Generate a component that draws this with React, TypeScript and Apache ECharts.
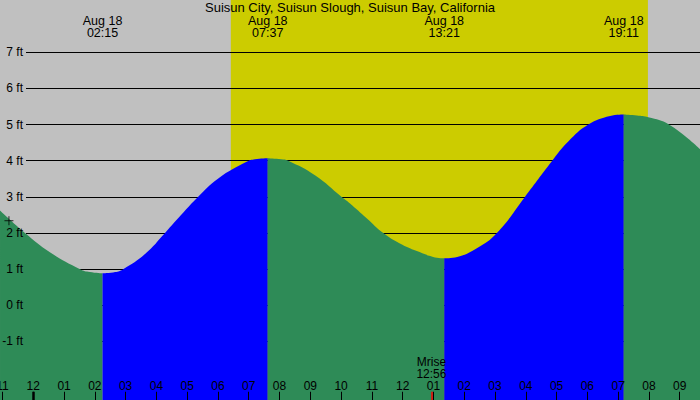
import React, { useEffect, useRef } from 'react';
import * as echarts from 'echarts';

const stationName = 'Suisun City, Suisun Slough, Suisun Bay, California';
const eventDate = 'Aug 18';
const tideEvents = ['02:15', '07:37', '13:21', '19:11'];
const sunrise = '06:25';
const sunset = '19:58';
const moonrise = '12:56';
const dayStarts = [0];

// tide curve: hours after midnight, height in feet
const tideHours = [-1.08, -0.27, 0.54, 1.52, 1.84, 2.25, 2.66, 2.92, 3.63, 4.28, 4.6, 5.35, 6.01, 6.93, 7.2, 7.617, 8.05, 8.28, 9.15, 10.02, 10.29, 10.83, 11.37, 11.91, 12.46, 12.99, 13.35, 13.77, 14.41, 15.06, 15.97, 16.84, 17.38, 18.03, 18.74, 19.183, 19.61, 19.98, 20.65, 21.66];
const tideFeet = [2.62, 2.0, 1.47, 1.0, 0.92, 0.885, 0.92, 1.0, 1.42, 2.0, 2.31, 3.0, 3.51, 3.97, 4.04, 4.07, 4.04, 4.0, 3.6, 3.0, 2.82, 2.41, 2.0, 1.71, 1.5, 1.34, 1.3, 1.34, 1.58, 2.0, 3.0, 3.98, 4.53, 5.0, 5.24, 5.28, 5.25, 5.2, 5.0, 4.32];
const nowMarker = [-0.79, 2.34];
const footLevels = [-1, 0, 1, 2, 3, 4, 5, 6, 7];

const FONT = 'Liberation Sans, Arial, sans-serif';
const X_MIN = -2;
const X_MAX = 22;
const Y_MIN = -3;
const Y_MAX = 9;

const toHours = (s: string) => {
  const [h, m] = s.split(':').map(Number);
  return h + m / 60;
};
const eventHours = tideEvents.map(toHours);

const hourLabel = (v: number) => {
  if (v <= X_MIN || v >= X_MAX) return '';
  const h = ((Math.round(v) % 12) + 12) % 12;
  return String(h === 0 ? 12 : h).padStart(2, '0');
};

const App: React.FC = () => {
  const chartRef = useRef<HTMLDivElement>(null);

  useEffect(() => {
    if (!chartRef.current) return;
    const chart = echarts.init(chartRef.current, undefined, { renderer: 'svg' });

    const points = tideHours.map((t, i) => [t, tideFeet[i]]);
    const bounds = [-Infinity, ...eventHours, Infinity];
    const segments = bounds.slice(0, -1).map((start, i) => {
      const end = bounds[i + 1];
      return points.filter(([t]) => t >= start - 0.01 && t <= end + 0.01);
    });

    // flood (rising) in blue, ebb (falling) in green
    const tideSeries = segments.map((seg) => {
      const rising = seg[seg.length - 1][1] > seg[0][1];
      return {
        type: 'line',
        xAxisIndex: 0,
        yAxisIndex: 0,
        z: 3,
        data: seg,
        smooth: 0.45,
        showSymbol: false,
        silent: true,
        lineStyle: { width: 0, opacity: 0 },
        areaStyle: { color: rising ? '#0000FF' : '#2E8B57', opacity: 1, origin: 'start' },
      };
    });

    const plainAxis = {
      axisLine: { show: false, onZero: false },
      splitLine: { show: false },
    };

    const option: any = {
      animation: false,
      backgroundColor: '#C0C0C0',
      title: {
        text: stationName,
        left: 'center',
        top: 1,
        padding: 0,
        textStyle: { fontSize: 13, fontWeight: 'normal', color: '#000', fontFamily: FONT },
      },
      grid: [
        { left: -28.3, right: -10.5, top: -20, bottom: -13.75, outerBoundsMode: 'none' },
        { left: 26, right: -10.5, top: -20, bottom: -13.75, outerBoundsMode: 'none' },
      ],
      xAxis: [
        {
          type: 'value',
          gridIndex: 0,
          min: X_MIN,
          max: X_MAX,
          interval: 1,
          position: 'bottom',
          z: 4,
          ...plainAxis,
          axisTick: { show: true, inside: true, length: 22, lineStyle: { color: '#000', width: 1 } },
          axisLabel: {
            inside: true,
            margin: 22,
            color: '#000',
            fontSize: 12,
            fontFamily: FONT,
            showMinLabel: true,
            showMaxLabel: true,
            formatter: hourLabel,
          },
        },
        {
          type: 'value',
          gridIndex: 0,
          min: X_MIN,
          max: X_MAX,
          position: 'bottom',
          z: 4,
          ...plainAxis,
          axisTick: { show: true, inside: true, length: 22, customValues: dayStarts, lineStyle: { color: '#000', width: 2.5 } },
          axisLabel: { show: false },
        },
        {
          type: 'value',
          gridIndex: 0,
          min: X_MIN,
          max: X_MAX,
          position: 'bottom',
          z: 4,
          ...plainAxis,
          axisTick: { show: true, inside: true, length: 22, customValues: [toHours(moonrise)], lineStyle: { color: '#FF0000', width: 1.5 } },
          axisLabel: {
            inside: true,
            margin: 34,
            customValues: [toHours(moonrise)],
            color: '#000',
            fontSize: 12,
            lineHeight: 12,
            fontFamily: FONT,
            formatter: () => `Mrise\n${moonrise}`,
          },
        },
        {
          type: 'value',
          gridIndex: 0,
          min: X_MIN,
          max: X_MAX,
          position: 'top',
          z: 4,
          ...plainAxis,
          axisTick: { show: false },
          axisLabel: {
            inside: true,
            margin: 34.5,
            customValues: eventHours,
            color: '#000',
            fontSize: 12.5,
            lineHeight: 12,
            fontFamily: FONT,
            formatter: (v: number) => {
              let idx = 0;
              eventHours.forEach((e, i) => {
                if (Math.abs(e - v) < Math.abs(eventHours[idx] - v)) idx = i;
              });
              return `${eventDate}\n${tideEvents[idx]}`;
            },
          },
        },
        { type: 'value', gridIndex: 1, min: X_MIN, max: X_MAX, show: false },
      ],
      yAxis: [
        { type: 'value', gridIndex: 0, min: Y_MIN, max: Y_MAX, show: false },
        {
          type: 'value',
          gridIndex: 1,
          min: Y_MIN,
          max: Y_MAX,
          interval: 1,
          position: 'left',
          z: 4,
          ...plainAxis,
          axisTick: { show: false },
          axisLabel: {
            margin: 3,
            color: '#000',
            fontSize: 12,
            fontFamily: FONT,
            formatter: (v: number) => (footLevels.includes(v) ? `${v} ft` : ''),
          },
        },
      ],
      series: [
        {
          type: 'line',
          xAxisIndex: 0,
          yAxisIndex: 0,
          data: [],
          silent: true,
          markArea: {
            z: 1,
            silent: true,
            itemStyle: { color: '#CCCC00' },
            data: [[{ xAxis: toHours(sunrise) }, { xAxis: toHours(sunset) }]],
          },
        },
        {
          type: 'line',
          xAxisIndex: 4,
          yAxisIndex: 1,
          data: [],
          silent: true,
          markLine: {
            z: 2,
            silent: true,
            symbol: ['none', 'none'],
            label: { show: false },
            lineStyle: { color: '#000', width: 1, type: 'solid' },
            data: footLevels.map((v) => ({ yAxis: v })),
          },
        },
        ...tideSeries,
        {
          type: 'scatter',
          xAxisIndex: 0,
          yAxisIndex: 0,
          z: 5,
          silent: true,
          data: [nowMarker],
          symbol: 'path://M0 5H10M5 0V10',
          symbolSize: [9, 9],
          itemStyle: { color: 'none', borderColor: '#000', borderWidth: 1 },
        },
      ],
    };

    chart.setOption(option);

    const handleResize = () => chart.resize();
    window.addEventListener('resize', handleResize);
    return () => {
      window.removeEventListener('resize', handleResize);
      chart.dispose();
    };
  }, []);

  return <div ref={chartRef} style={{ position: 'fixed', left: 0, top: 0, width: 700, height: 400 }} />;
};

export default App;
